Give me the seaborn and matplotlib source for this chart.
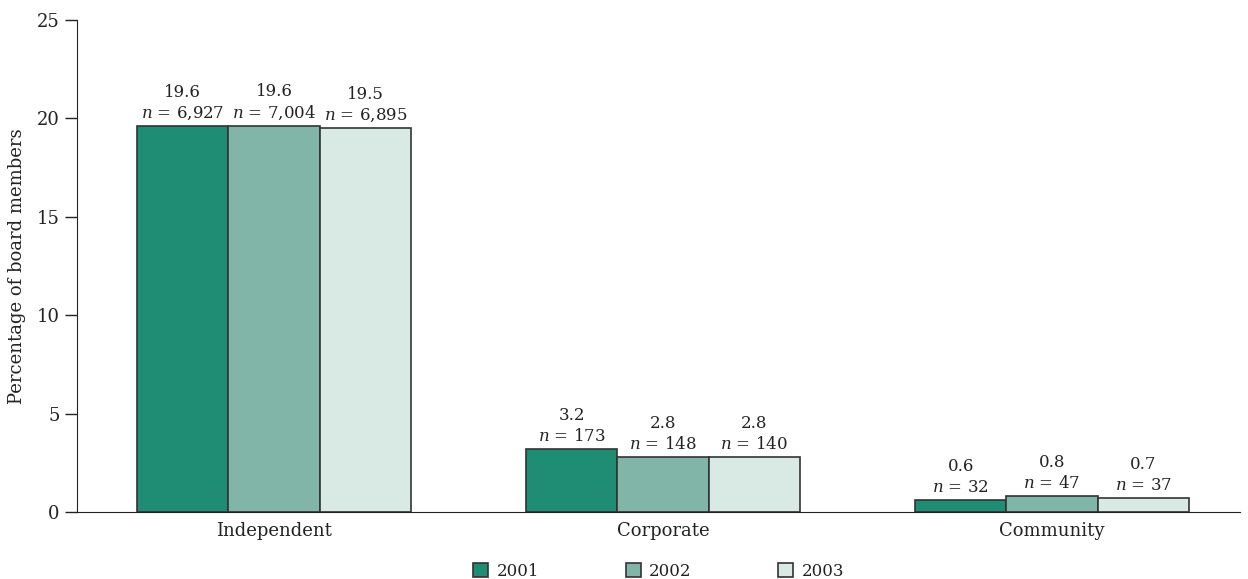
import pandas as pd
import numpy as np
import seaborn as sns
import matplotlib.pyplot as plt

# Données
categories = ["Independent", "Corporate", "Community"]
years = ["2001", "2002", "2003"]
pct_2001 = [19.6, 3.2, 0.6]
pct_2002 = [19.6, 2.8, 0.8]
pct_2003 = [19.5, 2.8, 0.7]
n_2001 = ["6,927", "173", "32"]
n_2002 = ["7,004", "148", "47"]
n_2003 = ["6,895", "140", "37"]

colors = ["#1f8c74", "#81b5a7", "#d9eae4"]

df = pd.DataFrame({
    "Type": categories * 3,
    "Year": [y for y in years for _ in categories],
    "Pct": pct_2001 + pct_2002 + pct_2003,
    "N": n_2001 + n_2002 + n_2003,
})

sns.set_style("white")
plt.rcParams["font.family"] = ["DejaVu Serif"]
plt.rcParams["mathtext.fontset"] = "custom"
plt.rcParams["mathtext.it"] = "DejaVu Serif:italic"
plt.rcParams["mathtext.rm"] = "DejaVu Serif"

fs = 12
fig = plt.figure(figsize=(12.48, 5.79), dpi=100)
ax = fig.add_axes([77 / 1248, 1 - 512 / 579, (1240 - 77) / 1248, (512 - 20) / 579])

sns.barplot(data=df, x="Type", y="Pct", hue="Year", palette=colors, saturation=1,
            width=0.705, edgecolor="#333333", linewidth=1.2, ax=ax, legend=True)

# Étiquettes au-dessus des barres
for cont, year in zip(ax.containers, years):
    sub = df[df["Year"] == year].reset_index(drop=True)
    for bar, (_, row) in zip(cont, sub.iterrows()):
        x = bar.get_x() + bar.get_width() / 2
        y = bar.get_height()
        ax.annotate(f"{row['Pct']}\n$\\mathit{{n}}$ = {row['N']}", (x, y),
                    xytext=(0, 3), textcoords="offset points",
                    ha="center", va="bottom", fontsize=fs, linespacing=1.3,
                    color="#222222")

ax.set_ylim(0, 25)
ax.set_yticks([0, 5, 10, 15, 20, 25])
ax.set_xlim(-0.506, 2.483)
ax.set_xlabel("")
ax.set_ylabel("Percentage of board members", fontsize=13, color="#222222", labelpad=8)
ax.tick_params(axis="y", length=9, width=1, labelsize=13, direction="out", left=True,
               color="#222222", labelcolor="#222222")
ax.tick_params(axis="x", length=0, labelsize=13, pad=7, labelcolor="#222222")
for s in ["top", "right"]:
    ax.spines[s].set_visible(False)
ax.spines["left"].set_color("#222222")
ax.spines["bottom"].set_color("#222222")

ax.legend(loc="center", bbox_to_anchor=(0.5, -0.121), ncol=3, frameon=False,
          fontsize=fs, handlelength=0.9, handleheight=0.9, handletextpad=0.5,
          columnspacing=5.2, labelcolor="#222222")

fig.savefig("out.png", dpi=100)
